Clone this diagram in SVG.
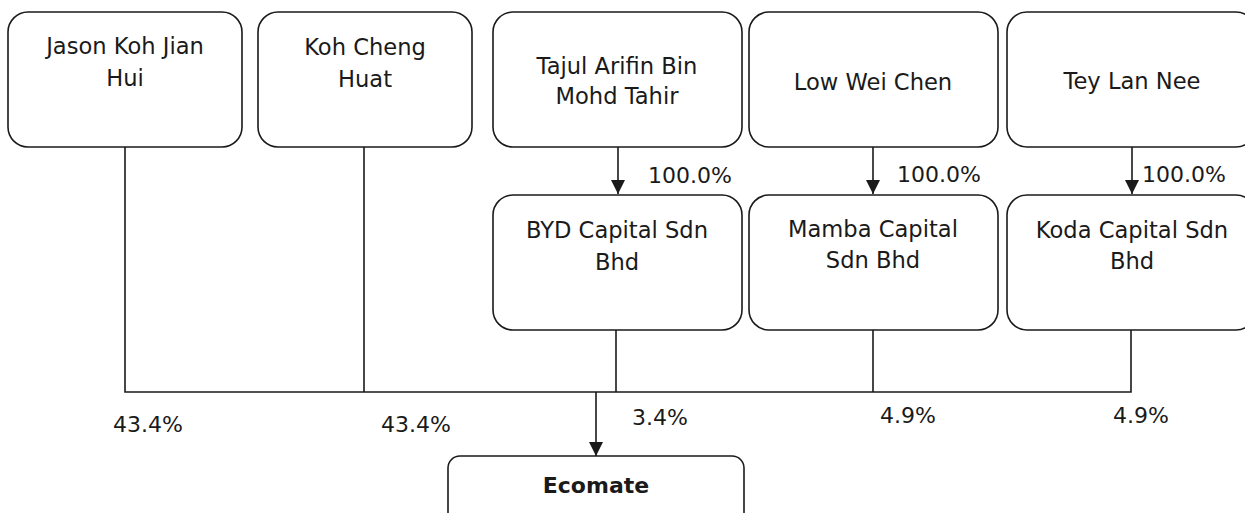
<svg xmlns="http://www.w3.org/2000/svg" width="1245" height="513" viewBox="0 0 1245 513">
<style>
.box{fill:#fff;stroke:#1a1a1a;stroke-width:1.6}
.t{font-family:"DejaVu Sans",Verdana,sans-serif;font-size:22.6px;fill:#1a1a1a;text-anchor:middle}
.p{font-family:"DejaVu Sans",Verdana,sans-serif;font-size:22px;fill:#1a1a1a}
.b{font-family:"DejaVu Sans",Verdana,sans-serif;font-size:22px;font-weight:bold;fill:#1a1a1a;text-anchor:middle}
.ln{stroke:#1a1a1a;stroke-width:1.6;fill:none}
</style>
<defs>
<marker id="arr" viewBox="0 0 14 14" refX="14" refY="7" markerWidth="14" markerHeight="14" markerUnits="userSpaceOnUse" orient="auto">
<path d="M0,0 L14,7 L0,14 Z" fill="#1a1a1a"/>
</marker>
</defs>
<rect width="1245" height="513" fill="#fff"/>
<g id="connectors">
<line class="ln" x1="618" y1="147" x2="618" y2="194" marker-end="url(#arr)"/>
<line class="ln" x1="873" y1="147" x2="873" y2="194" marker-end="url(#arr)"/>
<line class="ln" x1="1132" y1="147" x2="1132" y2="194" marker-end="url(#arr)"/>
<polyline class="ln" points="125,147 125,392 1131,392 1131,330"/>
<line class="ln" x1="364" y1="147" x2="364" y2="392"/>
<line class="ln" x1="616" y1="330" x2="616" y2="392"/>
<line class="ln" x1="873" y1="330" x2="873" y2="392"/>
<line class="ln" x1="596" y1="392" x2="596" y2="456" marker-end="url(#arr)"/>
<text class="p" x="648" y="183">100.0%</text>
<text class="p" x="897" y="182">100.0%</text>
<text class="p" x="1142" y="182">100.0%</text>
<text class="p" x="113" y="432">43.4%</text>
<text class="p" x="381" y="432">43.4%</text>
<text class="p" x="632" y="425">3.4%</text>
<text class="p" x="880" y="423">4.9%</text>
<text class="p" x="1113" y="423">4.9%</text>
</g>
<g id="jason">
<rect class="box" x="8" y="12" width="234" height="135" rx="20"/>
<text class="t" x="125" y="54">Jason Koh Jian</text>
<text class="t" x="125" y="86">Hui</text>
</g>
<g id="koh">
<rect class="box" x="258" y="12" width="214" height="135" rx="20"/>
<text class="t" x="365" y="55">Koh Cheng</text>
<text class="t" x="365" y="87">Huat</text>
</g>
<g id="tajul">
<rect class="box" x="493" y="12" width="249" height="135" rx="20"/>
<text class="t" x="617" y="74">Tajul Arifin Bin</text>
<text class="t" x="617" y="104">Mohd Tahir</text>
</g>
<g id="low">
<rect class="box" x="749" y="12" width="249" height="135" rx="20"/>
<text class="t" x="873" y="90">Low Wei Chen</text>
</g>
<g id="tey">
<rect class="box" x="1007" y="12" width="249" height="135" rx="20"/>
<text class="t" x="1132" y="89">Tey Lan Nee</text>
</g>
<g id="byd">
<rect class="box" x="493" y="195" width="249" height="135" rx="20"/>
<text class="t" x="617" y="238">BYD Capital Sdn</text>
<text class="t" x="617" y="270">Bhd</text>
</g>
<g id="mamba">
<rect class="box" x="749" y="195" width="249" height="135" rx="20"/>
<text class="t" x="873" y="237">Mamba Capital</text>
<text class="t" x="873" y="268">Sdn Bhd</text>
</g>
<g id="koda">
<rect class="box" x="1007" y="195" width="249" height="135" rx="20"/>
<text class="t" x="1132" y="238">Koda Capital Sdn</text>
<text class="t" x="1132" y="269">Bhd</text>
</g>
<g id="ecomate">
<rect class="box" x="448" y="456" width="296" height="80" rx="12"/>
<text class="b" x="596" y="493">Ecomate</text>
</g>
</svg>
